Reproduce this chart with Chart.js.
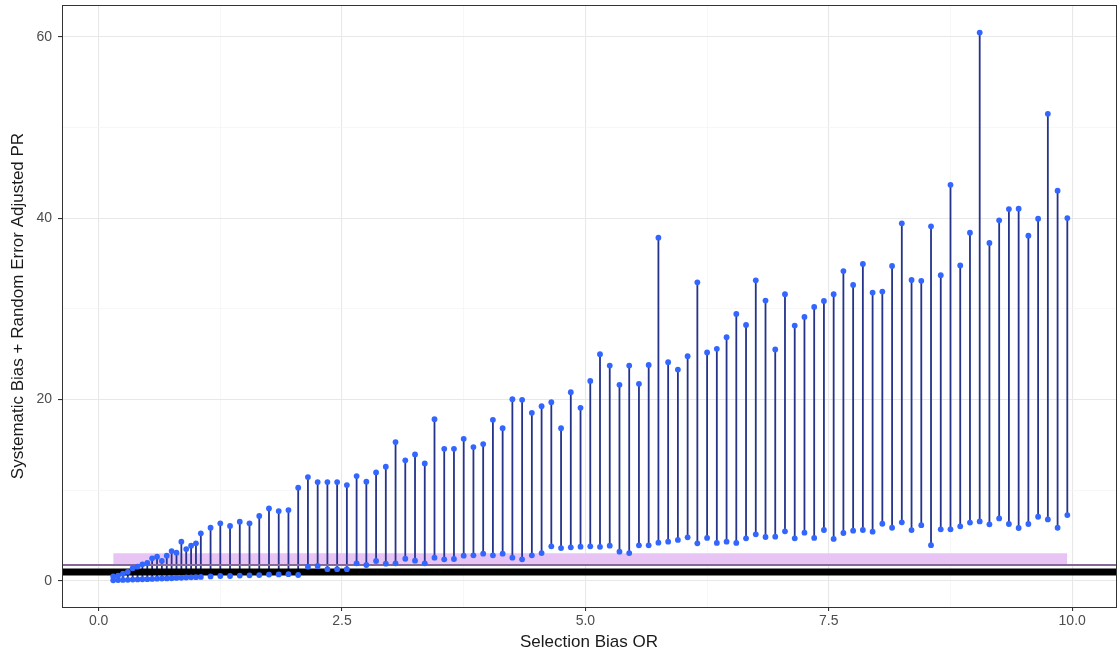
<!DOCTYPE html>
<html>
<head>
<meta charset="utf-8">
<script src="https://cdn.jsdelivr.net/npm/chart.js@4.4.1/dist/chart.umd.min.js"></script>
<style>
  html, body { margin: 0; padding: 0; background: #fff; overflow: hidden; }
  #wrap { width: 1120px; height: 658px; }
</style>
</head>
<body>
<div id="wrap"><canvas id="chart" width="1120" height="658"></canvas></div>
<script>
// Selection bias OR (x) and the adjusted PR interval ends
const orValues = [
  0.15, 0.2, 0.25, 0.3, 0.35, 0.4, 0.45, 0.5, 0.55, 0.6, 0.65, 0.7, 0.75, 0.8, 0.85, 0.9, 0.95, 1.0,
  1.05, 1.15, 1.25, 1.35, 1.45, 1.55, 1.65, 1.75, 1.85, 1.95,
  2.05, 2.15, 2.25, 2.35, 2.45, 2.55, 2.65, 2.75, 2.85, 2.95,
  3.05, 3.15, 3.25, 3.35, 3.45, 3.55, 3.65, 3.75, 3.85, 3.95,
  4.05, 4.15, 4.25, 4.35, 4.45, 4.55, 4.65, 4.75, 4.85, 4.95,
  5.05, 5.15, 5.25, 5.35, 5.45, 5.55, 5.65, 5.75, 5.85, 5.95,
  6.05, 6.15, 6.25, 6.35, 6.45, 6.55, 6.65, 6.75, 6.85, 6.95,
  7.05, 7.15, 7.25, 7.35, 7.45, 7.55, 7.65, 7.75, 7.85, 7.95,
  8.05, 8.15, 8.25, 8.35, 8.45, 8.55, 8.65, 8.75, 8.85, 8.95,
  9.05, 9.15, 9.25, 9.35, 9.45, 9.55, 9.65, 9.75, 9.85, 9.95
];
const upperPR = [
  0.5, 0.6, 0.8, 1.0, 1.4, 1.58, 1.84, 1.98, 2.5, 2.68, 2.2, 2.79, 3.3, 3.12, 4.33, 3.52, 3.89, 4.15,
  5.25, 5.87, 6.35, 6.06, 6.53, 6.35, 7.16, 8.0, 7.71, 7.82,
  10.28, 11.45, 10.9, 10.9, 10.9, 10.57, 11.56, 10.94, 11.97, 12.59,
  15.31, 13.3, 13.95, 12.96, 17.84, 14.57, 14.57, 15.67, 14.76, 15.09,
  17.77, 16.85, 20.04, 19.97, 18.54, 19.27, 19.71, 16.85, 20.81, 19.09,
  22.06, 25.0, 23.75, 21.62, 23.75, 21.73, 23.82, 37.85, 24.12, 23.31,
  24.78, 32.93, 25.19, 25.59, 26.87, 29.44, 28.23, 33.15, 30.91, 25.52,
  31.61, 28.16, 29.11, 30.21, 30.87, 31.61, 34.17, 32.63, 34.95, 31.8,
  31.9, 34.73, 39.43, 33.18, 33.09, 39.1, 33.71, 43.67, 34.79, 38.4,
  60.46, 37.26, 39.76, 41.0, 41.04, 38.07, 39.94, 51.5, 43.03, 40.01
];
const lowerPR = [
  0.08, 0.1, 0.12, 0.13, 0.15, 0.17, 0.19, 0.2, 0.22, 0.25, 0.27, 0.28, 0.3, 0.33, 0.35, 0.38, 0.4, 0.42,
  0.45, 0.5, 0.55, 0.55, 0.6, 0.62, 0.65, 0.7, 0.72, 0.75,
  0.66, 1.58, 1.65, 1.3, 1.3, 1.3, 1.95, 1.76, 2.2, 1.91,
  1.95, 2.45, 2.24, 1.95, 2.57, 2.39, 2.42, 2.79, 2.83, 3.01,
  2.83, 3.01, 2.57, 2.39, 2.83, 3.08, 3.82, 3.63, 3.71, 3.78,
  3.82, 3.76, 3.89, 3.23, 3.08, 3.93, 3.93, 4.22, 4.33, 4.52,
  4.81, 4.15, 4.74, 4.19, 4.33, 4.19, 4.7, 5.14, 4.85, 4.88,
  5.47, 4.7, 5.32, 4.74, 5.62, 4.63, 5.29, 5.54, 5.62, 5.43,
  6.31, 5.87, 6.46, 5.61, 6.15, 3.95, 5.69, 5.69, 6.02, 6.44,
  6.56, 6.24, 6.9, 6.28, 5.84, 6.28, 7.08, 6.79, 5.87, 7.27
];

// reference band and lines
const bandLow = 1.7;
const bandHigh = 3.05;
const refLine = 1;
const refLine2 = 1.75;

const xTicks = [0, 1.25, 2.5, 3.75, 5, 6.25, 7.5, 8.75, 10];
const yTicks = [0, 10, 20, 30, 40, 50, 60];
const xMin = -0.376, xMax = 10.45;
const yMin = -2.87, yMax = 63.5;

const segData = [];
orValues.forEach((x, i) => {
  segData.push({ x: x, y: lowerPR[i] });
  segData.push({ x: x, y: upperPR[i] });
  segData.push({ x: x, y: null });
});
const upperPts = orValues.map((x, i) => ({ x: x, y: upperPR[i] }));
const lowerPts = orValues.map((x, i) => ({ x: x, y: lowerPR[i] }));
const xFirst = orValues[0], xLast = orValues[orValues.length - 1];

const FONT = 'Liberation Sans, Arial, sans-serif';

// panel border (theme_bw style)
const borderPlugin = {
  id: 'panelBorder',
  afterDraw(chart) {
    const a = chart.chartArea, c = chart.ctx;
    c.save();
    c.strokeStyle = '#333333';
    c.lineWidth = 1;
    c.strokeRect(a.left + 0.5, a.top + 0.5, a.right - a.left, a.bottom - a.top);
    c.restore();
  }
};

const ctx = document.getElementById('chart').getContext('2d');
new Chart(ctx, {
  type: 'scatter',
  data: {
    datasets: [
      {
        type: 'scatter', data: upperPts,
        pointRadius: 2.9, pointBackgroundColor: '#3366ff', pointBorderWidth: 0
      },
      {
        type: 'scatter', data: lowerPts,
        pointRadius: 2.9, pointBackgroundColor: '#3366ff', pointBorderWidth: 0
      },
      {
        type: 'line', data: [{ x: xMin, y: refLine }, { x: xMax, y: refLine }],
        borderColor: '#000000', borderWidth: 7, pointRadius: 0, fill: false
      },
      {
        type: 'line', data: [{ x: xMin, y: refLine2 }, { x: xMax, y: refLine2 }],
        borderColor: '#86689a', borderWidth: 2, pointRadius: 0, fill: false
      },
      {
        type: 'line', data: segData, spanGaps: false,
        borderColor: '#25338a', borderWidth: 1.8, pointRadius: 0, fill: false
      },
      {
        type: 'line', data: [{ x: xFirst, y: bandHigh }, { x: xLast, y: bandHigh }],
        borderWidth: 0, pointRadius: 0,
        backgroundColor: '#e7c4f4', fill: { value: bandLow }
      }
    ]
  },
  options: {
    responsive: false,
    animation: false,
    devicePixelRatio: 1,
    layout: { padding: { top: 5, left: 0, right: 0, bottom: 0 } },
    plugins: { legend: { display: false }, tooltip: { enabled: false } },
    scales: {
      x: {
        type: 'linear', min: xMin, max: xMax,
        afterBuildTicks: s => { s.ticks = xTicks.map(v => ({ value: v })); },
        afterFit: s => { s.height = 51; s.paddingLeft = 0; s.paddingRight = 0; },
        ticks: {
          autoSkip: false, maxRotation: 0, padding: 2,
          color: '#4d4d4d', font: { family: FONT, size: 14 },
          callback: v => (v % 2.5 === 0 ? v.toFixed(1) : '')
        },
        grid: {
          color: c => (c.tick && c.tick.value % 2.5 === 0 ? '#e8e8e8' : '#f3f3f3'),
          lineWidth: c => (c.tick && c.tick.value % 2.5 === 0 ? 1.1 : 0.7),
          tickColor: c => (c.tick && c.tick.value % 2.5 === 0 ? '#333333' : 'rgba(0,0,0,0)'),
          tickLength: 4
        },
        border: { display: false },
        title: {
          display: true, text: 'Selection Bias OR', color: '#1a1a1a',
          font: { family: FONT, size: 17 }, padding: { top: 0, bottom: 5 }
        }
      },
      y: {
        type: 'linear', min: yMin, max: yMax,
        afterBuildTicks: s => { s.ticks = yTicks.map(v => ({ value: v })); },
        afterFit: s => { s.width = 62; s.paddingTop = 0; s.paddingBottom = 0; },
        ticks: {
          autoSkip: false, padding: 6,
          color: '#4d4d4d', font: { family: FONT, size: 14 },
          callback: v => (v % 20 === 0 ? String(v) : '')
        },
        grid: {
          color: c => (c.tick && c.tick.value % 20 === 0 ? '#e8e8e8' : '#f3f3f3'),
          lineWidth: c => (c.tick && c.tick.value % 20 === 0 ? 1.1 : 0.7),
          tickColor: c => (c.tick && c.tick.value % 20 === 0 ? '#333333' : 'rgba(0,0,0,0)'),
          tickLength: 4
        },
        border: { display: false },
        title: {
          display: true, text: 'Systematic Bias + Random Error Adjusted PR', color: '#1a1a1a',
          font: { family: FONT, size: 17 }, padding: { top: 8, bottom: 0 }
        }
      }
    }
  },
  plugins: [borderPlugin]
});
</script>
</body>
</html>
